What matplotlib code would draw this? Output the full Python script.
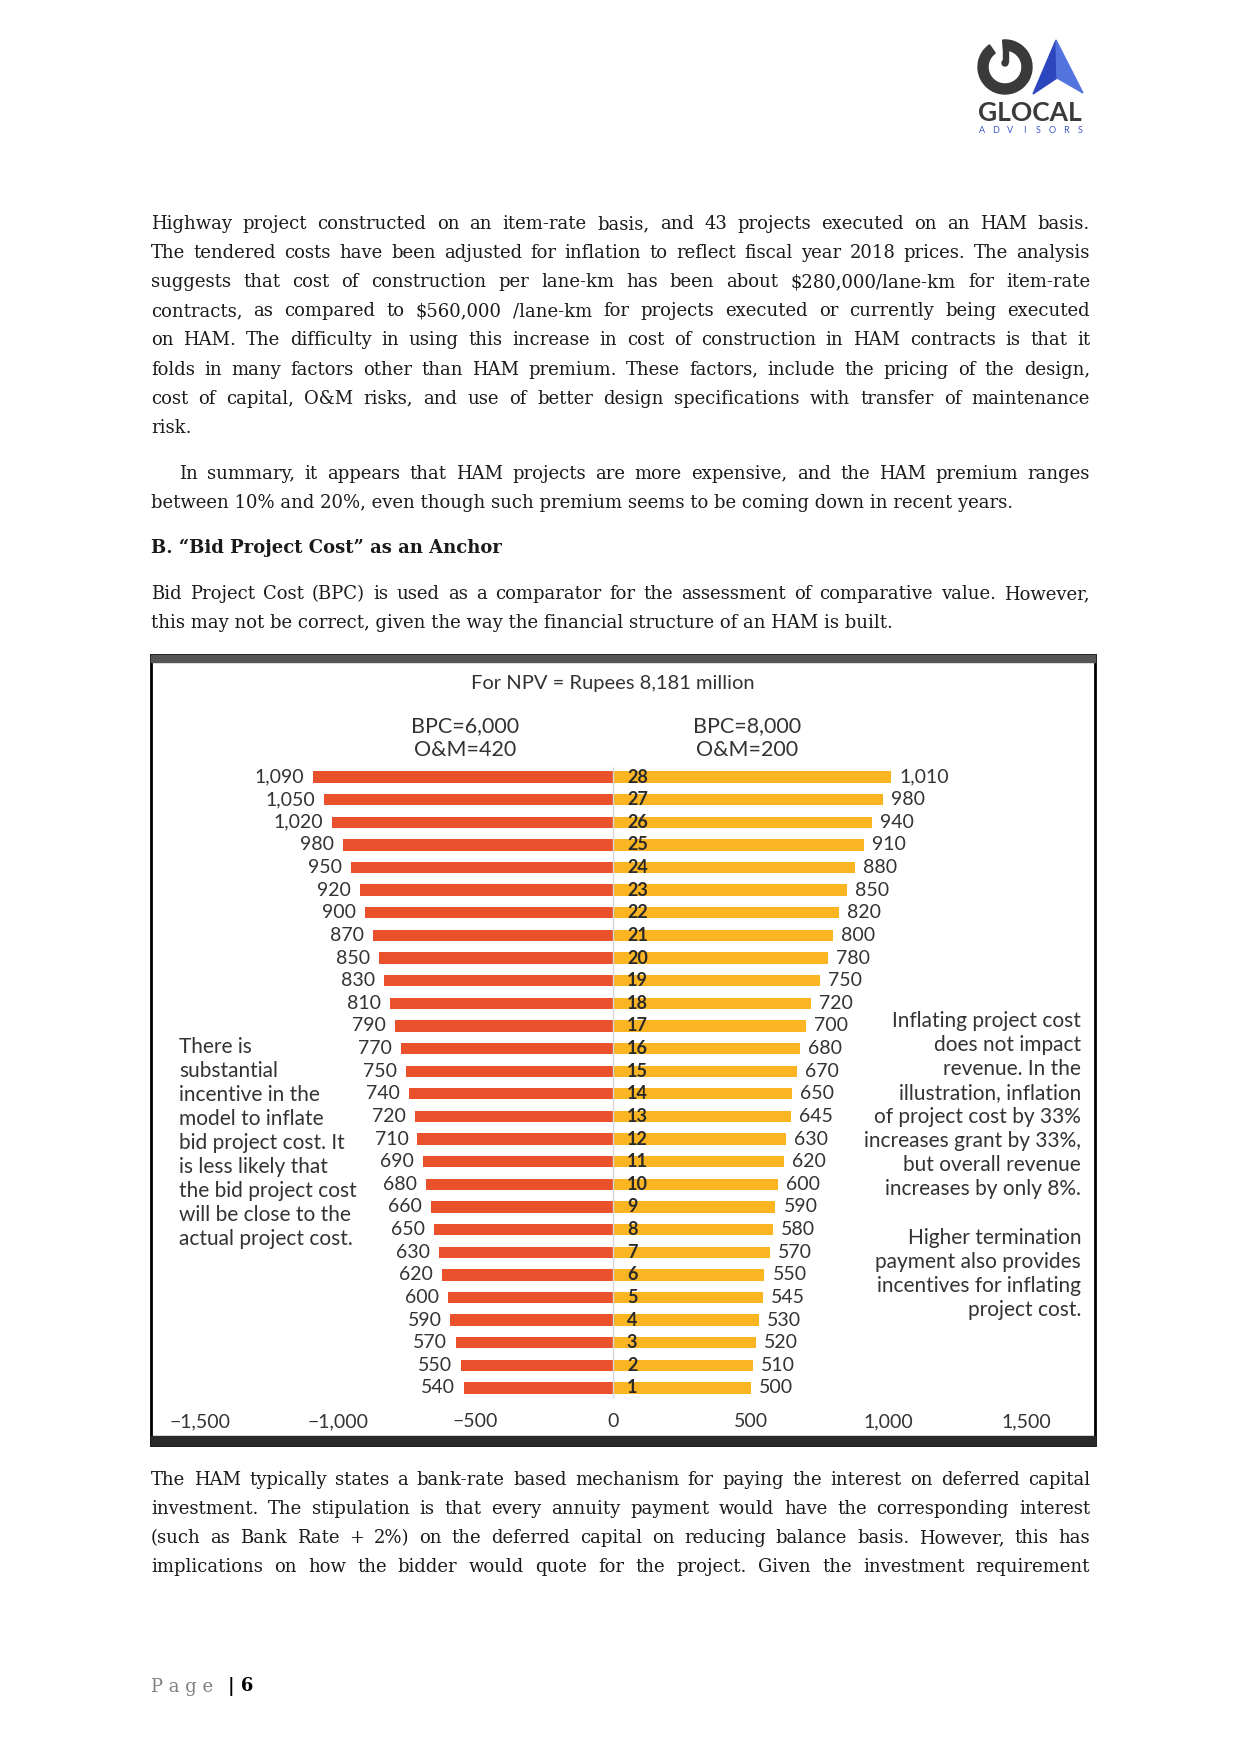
import matplotlib
matplotlib.use("Agg")
import matplotlib.pyplot as plt
from matplotlib.patches import Rectangle, Polygon, Wedge, Circle
import numpy as np

W, H = 1240, 1755

# chart data
rows = list(range(28, 0, -1))
bpc_6000 = [1090, 1050, 1020, 980, 950, 920, 900, 870, 850, 830, 810, 790, 770, 750,
            740, 720, 710, 690, 680, 660, 650, 630, 620, 600, 590, 570, 550, 540]
bpc_8000 = [1010, 980, 940, 910, 880, 850, 820, 800, 780, 750, 720, 700, 680, 670,
            650, 645, 630, 620, 600, 590, 580, 570, 550, 545, 530, 520, 510, 500]
x_ticks = [-1500, -1000, -500, 0, 500, 1000, 1500]
tick_labels = ["\u22121,500", "\u22121,000", "\u2212500", "0", "500", "1,000", "1,500"]

chart_title = "For NPV = Rupees 8,181 million"
left_head = ["BPC=6,000", "O&M=420"]
right_head = ["BPC=8,000", "O&M=200"]

left_note = ["There is", "substantial", "incentive in the", "model to inflate",
             "bid project cost. It", "is less likely that", "the bid project cost",
             "will be close to the", "actual project cost."]
right_note1 = ["Inflating project cost", "does not impact", "revenue. In the",
               "illustration, inflation", "of project cost by 33%",
               "increases grant by 33%,", "but overall revenue", "increases by only 8%."]
right_note2 = ["Higher termination", "payment also provides",
               "incentives for inflating", "project cost."]

para1 = ["Highway project constructed on an item-rate basis, and 43 projects executed on an HAM basis.",
         "The tendered costs have been adjusted for inflation to reflect fiscal year 2018 prices. The analysis",
         "suggests that cost of construction per lane-km has been about $280,000/lane-km for item-rate",
         "contracts, as compared to $560,000 /lane-km for projects executed or currently being executed",
         "on HAM. The difficulty in using this increase in cost of construction in HAM contracts is that it",
         "folds in many factors other than HAM premium. These factors, include the pricing of the design,",
         "cost of capital, O&M risks, and use of better design specifications with transfer of maintenance",
         "risk."]
para2 = ["In summary, it appears that HAM projects are more expensive, and the HAM premium ranges",
         "between 10% and 20%, even though such premium seems to be coming down in recent years."]
heading = "B. \u201cBid Project Cost\u201d as an Anchor"
para3 = ["Bid Project Cost (BPC) is used as a comparator for the assessment of comparative value. However,",
         "this may not be correct, given the way the financial structure of an HAM is built."]
para4 = ["The HAM typically states a bank-rate based mechanism for paying the interest on deferred capital",
         "investment. The stipulation is that every annuity payment would have the corresponding interest",
         "(such as Bank Rate + 2%) on the deferred capital on reducing balance basis. However, this has",
         "implications on how the bidder would quote for the project. Given the investment requirement"]

RED = "#E8512B"
YELLOW = "#FBB422"
INK = "#1a1a1a"
CHART_INK = "#333333"
SANS = ["Lato", "DejaVu Sans"]
SERIF = "DejaVu Serif"
BODY_SIZE = 13

fig = plt.figure(figsize=(W / 100, H / 100), dpi=100)
fig.patch.set_facecolor("white")
page = fig.add_axes([0, 0, 1, 1])
page.set_xlim(0, W)
page.set_ylim(H, 0)
page.axis("off")
renderer = fig.canvas.get_renderer()

body_kw = dict(fontsize=BODY_SIZE, family=SERIF, color=INK, va="center", ha="left", parse_math=False)


def put_line(text, x0, x1, y, justify=True, **kw):
    if not justify:
        page.text(x0, y, text, **kw)
        return
    words = text.split(" ")
    objs = [page.text(0, y, w, **kw) for w in words]
    widths = [o.get_window_extent(renderer).width for o in objs]
    gap = (x1 - x0 - sum(widths)) / (len(words) - 1)
    x = x0
    for o, w in zip(objs, widths):
        o.set_x(x)
        x += w + gap


def put_para(lines, y0, last_justified=False, indent=0):
    for i, line in enumerate(lines):
        last = i == len(lines) - 1
        put_line(line, 151 + (indent if i == 0 else 0), 1090, y0 + i * 29.1,
                 justify=(not last) or last_justified, **body_kw)


put_para(para1, 224)
put_para(para2, 474, indent=28)
page.text(151, 548, heading, fontsize=BODY_SIZE, family=SERIF, color=INK, weight="bold",
          va="center", ha="left")
put_para(para3, 594)
put_para(para4, 1480, last_justified=True)

# footer
page.text(151, 1687, "P a g e", fontsize=13, family=SERIF, color="#808080", va="center")
page.text(228, 1687, "| 6", fontsize=13, family=SERIF, color="black", weight="bold", va="center")

# logo
page.add_patch(Wedge((1005, 67), 27, 265, 595, width=10, color="#3a3a3a"))
page.add_patch(Rectangle((1003, 40), 5, 22, color="#3a3a3a"))
page.add_patch(Circle((1005, 63), 3, color="#3a3a3a"))
page.add_patch(Polygon([(1056, 40), (1057, 78), (1033, 94)], closed=True, color="#2c46bd"))
page.add_patch(Polygon([(1056, 40), (1083, 93), (1057, 78)], closed=True, color="#5374de"))
page.text(1030, 113, "GLOCAL", fontsize=19, family=SANS, weight="bold", color="#3a3a3a",
          ha="center", va="center")
for xx, ch in zip(np.linspace(982, 1080, 8), "ADVISORS"):
    page.text(xx, 130, ch, fontsize=6.5, family=SANS, color="#3b55c9", ha="center", va="center")

# chart frame
page.add_patch(Rectangle((151, 655), 944, 790, fill=False, lw=2, ec="black"))
page.add_patch(Rectangle((151, 655), 944, 7, color="#555555"))
page.add_patch(Rectangle((151, 1436), 944, 9, color="#2a2a2a"))

# side notes
note_kw = dict(fontsize=15, family=SANS, color=CHART_INK, va="center")
for i, line in enumerate(left_note):
    page.text(179, 1047 + i * 24, line, ha="left", **note_kw)
for i, line in enumerate(right_note1):
    page.text(1081, 1021 + i * 24, line, ha="right", **note_kw)
for i, line in enumerate(right_note2):
    page.text(1081, 1238 + i * 24, line, ha="right", **note_kw)

# chart
ax = fig.add_axes([153 / W, 1 - 1438 / H, 940 / W, (1438 - 665) / H])
ax.patch.set_visible(False)
ax.set_xlim(-1670, 1743)
ax.set_ylim(-1.21, 32.95)
ax.axis("off")

ax.barh(rows, [-v for v in bpc_6000], height=0.5, color=RED, zorder=2)
ax.barh(rows, bpc_8000, height=0.5, color=YELLOW, zorder=2)
ax.vlines(0, rows[-1] - 0.45, rows[0] + 0.45, color="#d5d5d5", lw=1, zorder=3)

num_kw = dict(fontsize=14, family=SANS, color=CHART_INK, va="center")
for r, v in zip(rows, bpc_6000):
    ax.annotate(f"{v:,}", xy=(-v, r), xytext=(-9, 0), textcoords="offset pixels",
                ha="right", **num_kw)
for r, v in zip(rows, bpc_8000):
    ax.annotate(f"{v:,}", xy=(v, r), xytext=(8, 0), textcoords="offset pixels",
                ha="left", **num_kw)
for r in rows:
    ax.annotate(str(r), xy=(0, r), xytext=(14, 0), textcoords="offset pixels",
                ha="left", va="center", fontsize=13, family=SANS, color="#2a2a2a",
                weight="bold", zorder=4)

for t, lab in zip(x_ticks, tick_labels):
    ax.text(t, -0.5, lab, ha="center", **num_kw)

ax.text(0, 32.15, chart_title, ha="center", va="center", fontsize=14.5, family=SANS, color=CHART_INK)
for i, (a, b) in enumerate(zip(left_head, right_head)):
    ax.text(-537, 30.25 - i * 1.06, a, ha="center", va="center", fontsize=15.5, family=SANS, color=CHART_INK)
    ax.text(486, 30.25 - i * 1.06, b, ha="center", va="center", fontsize=15.5, family=SANS, color=CHART_INK)

fig.savefig("out.png", dpi=100, facecolor="white")
